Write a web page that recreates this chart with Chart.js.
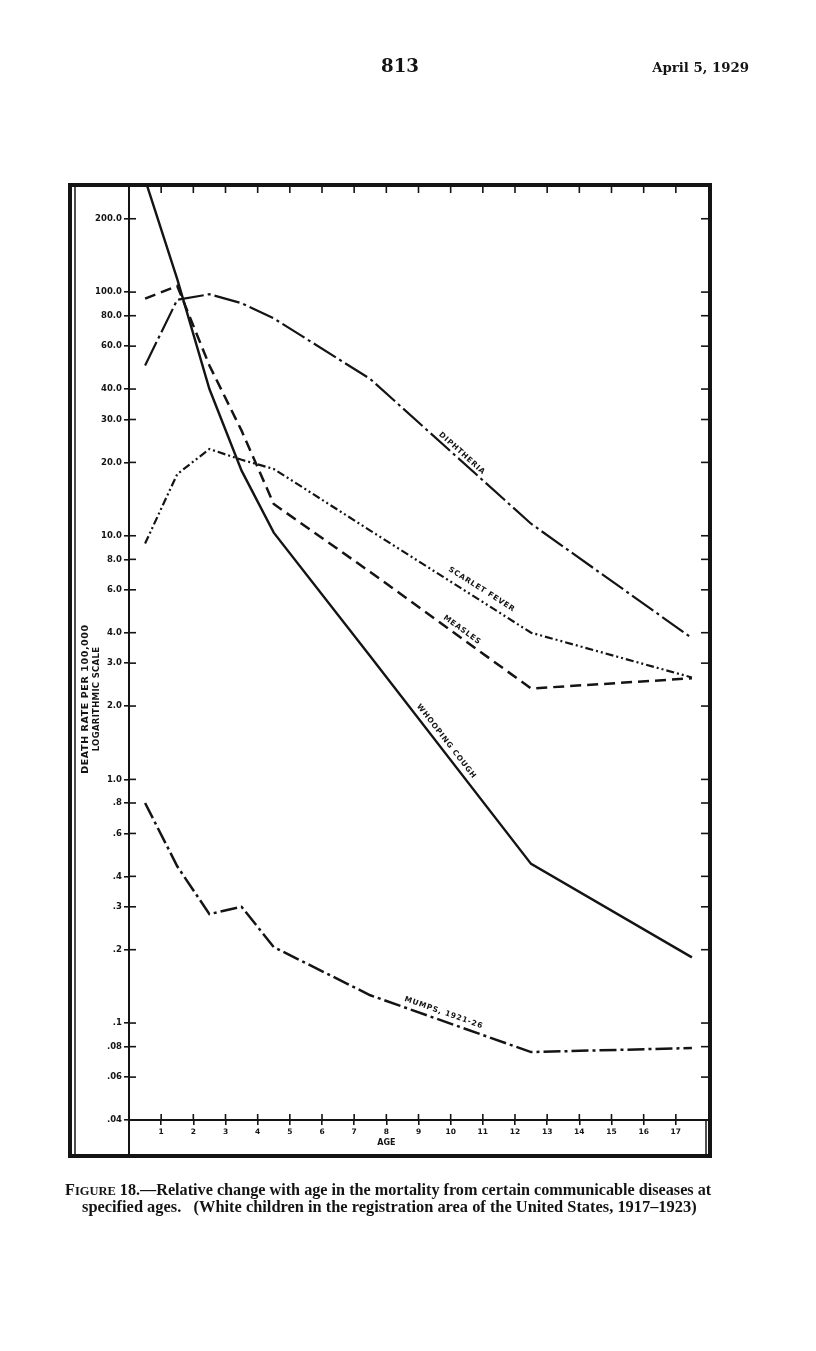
<!DOCTYPE html>
<html>
<head>
<meta charset="utf-8">
<script src="https://cdn.jsdelivr.net/npm/chart.js@4.4.1/dist/chart.umd.min.js"></script>
<style>
  html, body { margin: 0; padding: 0; background: #fff; }
  #wrap { position: relative; width: 816px; height: 1351px; }
</style>
</head>
<body>
<div id="wrap"><canvas id="myChart" width="816" height="1351"></canvas></div>
<script>
// age groups are plotted at the middle of each group: under 1, 1, 2, 3, 4, 5-9, 10-14, 15-19
var ages = [0.5, 1.5, 2.5, 3.5, 4.5, 7.5, 12.5, 17.5];

// death rate per 100,000
var whoopingCough = [290, 113, 40, 18.5, 10.3, 3.2, 0.45, 0.186];
var measles       = [94, 106, 50, 27, 13.5, 7.1, 2.36, 2.6];
var scarletFever  = [9.3, 17.9, 22.7, 20.5, 18.8, 10.5, 4.0, 2.62];
var diphtheria    = [50, 93, 98, 90, 78, 44, 11.2, 3.8];
var mumps         = [0.8, 0.44, 0.28, 0.30, 0.205, 0.13, 0.076, 0.079];

var ageTicks = [1, 2, 3, 4, 5, 6, 7, 8, 9, 10, 11, 12, 13, 14, 15, 16, 17];
var rateTicks = [200, 100, 80, 60, 40, 30, 20, 10, 8, 6, 4, 3, 2, 1, 0.8, 0.6, 0.4, 0.3, 0.2, 0.1, 0.08, 0.06, 0.04];
var rateLabels = ['200.0', '100.0', '80.0', '60.0', '40.0', '30.0', '20.0', '10.0', '8.0', '6.0', '4.0', '3.0', '2.0',
                  '1.0', '.8', '.6', '.4', '.3', '.2', '.1', '.08', '.06', '.04'];

var ink = '#141414';

function pts(series) {
  return ages.map(function (a, i) { return { x: a, y: series[i] }; });
}

function seg(ctx, x1, y1, x2, y2) {
  ctx.beginPath(); ctx.moveTo(x1, y1); ctx.lineTo(x2, y2); ctx.stroke();
}

// draw text so it fills a given width
function fitText(ctx, text, x, y, width, weight, family, align) {
  ctx.font = weight + ' 20px ' + family;
  var size = 20 * width / ctx.measureText(text).width;
  ctx.font = weight + ' ' + size.toFixed(2) + 'px ' + family;
  ctx.textAlign = align || 'left';
  ctx.fillText(text, x, y);
}

// where the names sit along their lines (dataset index, age at the centre, distance above the line)
var lineNotes = [
  { ds: 3, text: 'DIPHTHERIA', age: 10.23, off: 6 },
  { ds: 2, text: 'SCARLET FEVER', age: 10.8, off: 10 },
  { ds: 1, text: 'MEASLES', age: 10.23, off: 7 },
  { ds: 0, text: 'WHOOPING COUGH', age: 9.67, off: 8 },
  { ds: 4, text: 'MUMPS, 1921-26', age: 9.7, off: 8 }
];

var pagePlugin = {
  id: 'page',
  afterDraw: function (chart) {
    var ctx = chart.ctx, a = chart.chartArea;
    var xs = chart.scales.x, ys = chart.scales.y;
    var frameTop = 185, frameBottom = 1156, frameLeft = 70, frameRight = a.right + 2;
    ctx.save();
    ctx.strokeStyle = ink;
    ctx.fillStyle = ink;
    ctx.lineCap = 'butt';

    // outer frame
    ctx.lineWidth = 4;
    ctx.strokeRect(frameLeft, frameTop, frameRight - frameLeft, frameBottom - frameTop);
    ctx.lineWidth = 1.5;
    seg(ctx, frameLeft + 5, frameTop, frameLeft + 5, frameBottom);
    seg(ctx, frameRight - 4, a.bottom, frameRight - 4, frameBottom);

    // y axis runs on to the bottom of the frame
    ctx.lineWidth = 2;
    seg(ctx, a.left, frameTop, a.left, frameBottom);

    // ticks crossing the axes, and on the top and right edges
    ctx.lineWidth = 1.6;
    ageTicks.forEach(function (v) {
      var px = xs.getPixelForValue(v);
      seg(ctx, px, a.bottom - 6, px, a.bottom);
      seg(ctx, px, frameTop, px, frameTop + 8);
    });
    rateTicks.forEach(function (v) {
      var py = ys.getPixelForValue(v);
      seg(ctx, a.left, py, a.left + 7, py);
      seg(ctx, frameRight, py, frameRight - 9, py);
    });

    // names along the lines
    ctx.font = 'bold 7.5px "DejaVu Sans"';
    ctx.letterSpacing = '0.8px';
    ctx.textAlign = 'center';
    ctx.textBaseline = 'middle';
    lineNotes.forEach(function (n) {
      var data = chart.data.datasets[n.ds].data;
      for (var i = 0; i < data.length - 1; i++) {
        if (n.age >= data[i].x && n.age <= data[i + 1].x) {
          var x0 = xs.getPixelForValue(data[i].x), y0 = ys.getPixelForValue(data[i].y);
          var x1 = xs.getPixelForValue(data[i + 1].x), y1 = ys.getPixelForValue(data[i + 1].y);
          var px = xs.getPixelForValue(n.age);
          var py = y0 + (y1 - y0) * (px - x0) / (x1 - x0);
          var ang = Math.atan2(y1 - y0, x1 - x0);
          ctx.save();
          ctx.translate(px + n.off * Math.sin(ang), py - n.off * Math.cos(ang));
          ctx.rotate(ang);
          ctx.fillText(n.text, 0, 0);
          ctx.restore();
          break;
        }
      }
    });
    ctx.letterSpacing = '0px';

    // axis titles
    ctx.save();
    ctx.translate(86, 699);
    ctx.rotate(-Math.PI / 2);
    ctx.font = 'bold 9.5px "DejaVu Sans"';
    ctx.letterSpacing = '0.6px';
    ctx.fillText('DEATH RATE PER 100,000', 0, 0);
    ctx.font = 'bold 8.5px "DejaVu Sans"';
    ctx.letterSpacing = '0.3px';
    ctx.fillText('LOGARITHMIC SCALE', 0, 11);
    ctx.restore();
    ctx.letterSpacing = '0px';
    ctx.font = 'bold 8px "DejaVu Sans"';
    ctx.fillText('AGE', xs.getPixelForValue(8), 1143);

    // page header
    ctx.textBaseline = 'alphabetic';
    fitText(ctx, '813', 400, 72, 38, 'bold', '"DejaVu Serif"', 'center');
    fitText(ctx, 'April 5, 1929', 749, 72, 97, 'bold', '"DejaVu Serif"', 'right');

    // caption
    var capFamily = '"Liberation Serif"';
    var rest1 = ' 18.\u2014Relative change with age in the mortality from certain communicable diseases at';
    ctx.font = 'bold 13px ' + capFamily;
    var wF = ctx.measureText('F').width;
    ctx.font = 'bold 10px ' + capFamily;
    var wI = ctx.measureText('IGURE').width;
    ctx.font = 'bold 13px ' + capFamily;
    var wR = ctx.measureText(rest1).width;
    var k = 647 / (wF + wI + wR);
    var cx = 65;
    ctx.textAlign = 'left';
    ctx.font = 'bold ' + (13 * k).toFixed(2) + 'px ' + capFamily;
    ctx.fillText('F', cx, 1195); cx += wF * k;
    ctx.font = 'bold ' + (10 * k).toFixed(2) + 'px ' + capFamily;
    ctx.fillText('IGURE', cx, 1195); cx += wI * k;
    ctx.font = 'bold ' + (13 * k).toFixed(2) + 'px ' + capFamily;
    ctx.fillText(rest1, cx, 1195);
    fitText(ctx, 'specified ages.   (White children in the registration area of the United States, 1917\u20131923)',
            82, 1212, 615, 'bold', capFamily, 'left');

    ctx.restore();
  }
};

var ctx = document.getElementById('myChart').getContext('2d');
var myChart = new Chart(ctx, {
  type: 'line',
  data: {
    datasets: [
      { label: 'Whooping cough', data: pts(whoopingCough), borderColor: ink, borderWidth: 2.4, borderDash: [] },
      { label: 'Measles', data: pts(measles), borderColor: ink, borderWidth: 2.5, borderDash: [11, 6] },
      { label: 'Scarlet fever', data: pts(scarletFever), borderColor: ink, borderWidth: 2.2, borderDash: [8, 3, 2, 3, 2, 3] },
      { label: 'Diphtheria', data: pts(diphtheria), borderColor: ink, borderWidth: 2.2, borderDash: [26, 4, 3, 4] },
      { label: 'Mumps, 1921-26', data: pts(mumps), borderColor: ink, borderWidth: 2.5, borderDash: [17, 4, 3, 4] }
    ]
  },
  options: {
    responsive: false,
    animation: false,
    events: [],
    elements: { point: { radius: 0 }, line: { tension: 0, fill: false } },
    layout: { padding: { left: 0, right: 816 - 708, top: 187, bottom: 1351 - 1120 - 30 } },
    plugins: { legend: { display: false }, tooltip: { enabled: false } },
    scales: {
      x: {
        type: 'linear', min: 0, max: 18,
        afterBuildTicks: function (s) { s.ticks = ageTicks.map(function (v) { return { value: v }; }); },
        afterFit: function (s) { s.height = 30; },
        grid: { drawOnChartArea: false, tickLength: 5, color: ink, lineWidth: 1.6 },
        border: { color: ink, width: 2 },
        ticks: { color: ink, padding: 3, maxRotation: 0, autoSkip: false,
                 font: { family: 'DejaVu Sans', weight: 'bold', size: 7.5 } }
      },
      y: {
        type: 'logarithmic', min: 0.04, max: 270,
        afterBuildTicks: function (s) { s.ticks = rateTicks.map(function (v) { return { value: v }; }); },
        afterFit: function (s) { s.width = 129; },
        grid: { drawOnChartArea: false, tickLength: 5, color: ink, lineWidth: 1.6 },
        border: { color: ink, width: 2 },
        ticks: {
          color: ink, padding: 2, autoSkip: false,
          font: { family: 'DejaVu Sans', weight: 'bold', size: 8.5 },
          callback: function (v) { return rateLabels[rateTicks.indexOf(v)]; }
        }
      }
    }
  },
  plugins: [pagePlugin]
});
</script>
</body>
</html>
